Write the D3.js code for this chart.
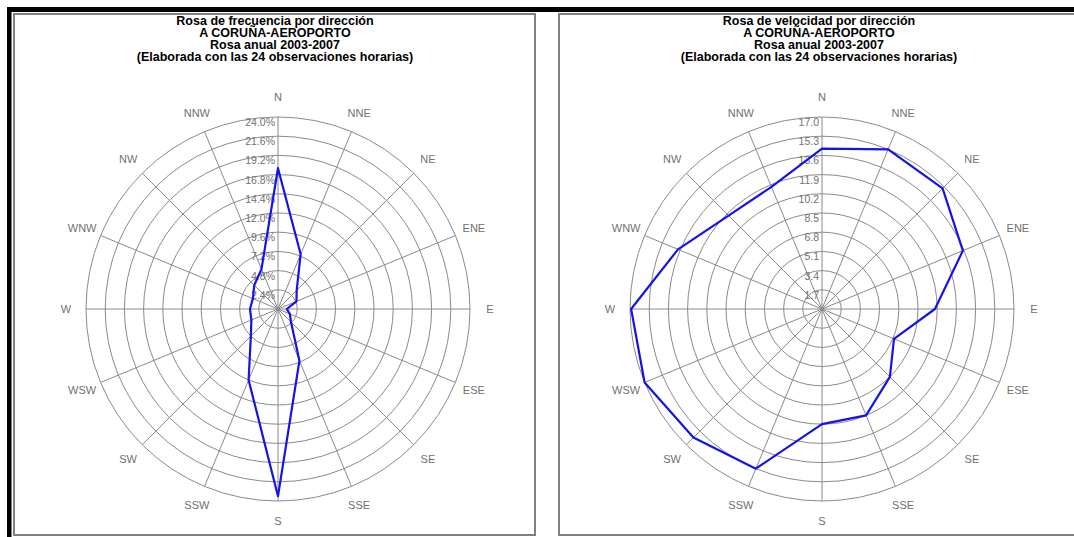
<!DOCTYPE html>
<html><head><meta charset="utf-8">
<script src="https://cdn.jsdelivr.net/npm/d3@7"></script>
<style>html,body{margin:0;padding:0;background:#fff;}svg{display:block;}</style>
</head><body>
<svg id="c" width="1074" height="537"></svg>
<script>
const directions = ["N","NNE","NE","ENE","E","ESE","SE","SSE","S","SSW","SW","WSW","W","WNW","NW","NNW"];
const freqValues = [17.6, 7.4, 3.3, 2.5, 1.1, 1.6, 2.3, 7.0, 23.4, 9.6, 4.8, 3.6, 3.5, 3.4, 4.2, 5.4];
const speedValues = [14.2, 15.3, 15.1, 13.5, 10.0, 6.9, 8.5, 10.2, 10.2, 15.3, 16.1, 17.0, 16.9, 13.8, 11.7, 11.7];
const freqTicks = [2.4, 4.8, 7.2, 9.6, 12.0, 14.4, 16.8, 19.2, 21.6, 24.0];
const freqTickLabels = ["2.4%","4.8%","7.2%","9.6%","12.0%","14.4%","16.8%","19.2%","21.6%","24.0%"];
const speedTicks = [1.7, 3.4, 5.1, 6.8, 8.5, 10.2, 11.9, 13.6, 15.3, 17.0];
const speedTickLabels = ["1.7","3.4","5.1","6.8","8.5","10.2","11.9","13.6","15.3","17.0"];
const freqTitle = ["Rosa de frecuencia por dirección","A CORUÑA-AEROPORTO","Rosa anual 2003-2007","(Elaborada con las 24 observaciones horarias)"];
const speedTitle = ["Rosa de velocidad por dirección","A CORUÑA-AEROPORTO","Rosa anual 2003-2007","(Elaborada con las 24 observaciones horarias)"];

const svg = d3.select("#c");
svg.append("rect").attr("x",0).attr("y",0).attr("width",1074).attr("height",537).attr("fill","#fff");
// black frame
svg.append("rect").attr("x",7).attr("y",7).attr("width",1067).attr("height",5).attr("fill","#000");
svg.append("rect").attr("x",7).attr("y",7).attr("width",4.5).attr("height",530).attr("fill","#000");

function panel(px, cx, titles, values, ticks, tickLabels, maxV) {
  const g = svg.append("g");
  g.append("rect").attr("x",px).attr("y",14).attr("width",521).attr("height",521)
    .attr("fill","#fff").attr("stroke","#808080").attr("stroke-width",2);
  const cy = 309, R = 192;
  const r = d3.scaleLinear().domain([0, maxV]).range([0, R]);
  const ang = d3.scaleLinear().domain([0, directions.length]).range([0, 2*Math.PI]);
  titles.forEach((t,i)=>{
    g.append("text").attr("x",cx-3).attr("y",25+i*12).attr("text-anchor","middle")
      .attr("font-family","Liberation Sans, Arial, sans-serif").attr("font-weight","bold")
      .attr("font-size",12.5).attr("fill","#000").text(t);
  });
  const grid = g.append("g").attr("transform",`translate(${cx},${cy})`);
  grid.selectAll("circle").data(ticks).enter().append("circle")
    .attr("r",d=>r(d)).attr("fill","none").attr("stroke","#8a8a8a").attr("stroke-width",1);
  grid.selectAll("line").data(directions).enter().append("line")
    .attr("x1",0).attr("y1",0)
    .attr("x2",(d,i)=>R*Math.sin(ang(i))).attr("y2",(d,i)=>-R*Math.cos(ang(i)))
    .attr("stroke","#8a8a8a").attr("stroke-width",1);
  grid.selectAll("text.tk").data(ticks).enter().append("text").attr("class","tk")
    .attr("x",-3).attr("y",d=>-r(d)+9).attr("text-anchor","end")
    .attr("font-family","Liberation Sans, Arial, sans-serif").attr("font-size",10.5)
    .attr("fill","#707070").text((d,i)=>tickLabels[i]);
  grid.selectAll("text.dir").data(directions).enter().append("text").attr("class","dir")
    .attr("x",(d,i)=>212*Math.sin(ang(i))).attr("y",(d,i)=>-212*Math.cos(ang(i))+4)
    .attr("text-anchor","middle")
    .attr("font-family","Liberation Sans, Arial, sans-serif").attr("font-size",11)
    .attr("fill","#707070").text(d=>d);
  const line = d3.lineRadial().angle((d,i)=>ang(i)).radius(d=>r(d)).curve(d3.curveLinearClosed);
  grid.append("path").datum(values).attr("d",line).attr("fill","none")
    .attr("stroke","#1414e6").attr("stroke-width",2.2).attr("stroke-linejoin","round");
}
panel(14, 278, freqTitle, freqValues, freqTicks, freqTickLabels, 24);
panel(559, 822, speedTitle, speedValues, speedTicks, speedTickLabels, 17);
</script>
</body></html>
